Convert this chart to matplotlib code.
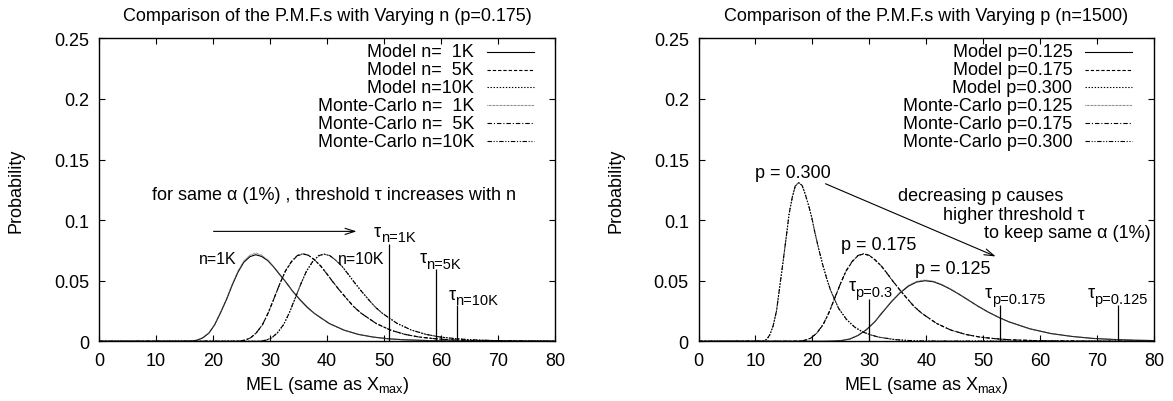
import matplotlib.pyplot as plt
from matplotlib.lines import Line2D

plt.rcParams['font.family'] = ['Liberation Sans', 'DejaVu Sans']
plt.rcParams['mathtext.fontset'] = 'custom'
plt.rcParams['mathtext.rm'] = 'Liberation Sans'
plt.rcParams['mathtext.it'] = 'Liberation Sans:italic'
plt.rcParams['lines.scale_dashes'] = False

# ---- data ----
x_ticks = [0, 10, 20, 30, 40, 50, 60, 70, 80]
y_ticks = [0, 0.05, 0.1, 0.15, 0.2, 0.25]
y_tick_labels = ['0', '0.05', '0.1', '0.15', '0.2', '0.25']

# left panel: varying n (p=0.175)
n1k_x = [0, 15.1, 16.2, 17.2, 18.2, 19.3, 20.3, 21.3, 22.4, 23.4, 24.4, 25.4, 26.5, 27.5, 28.5, 29.6,
         30.6, 31.6, 32.7, 33.9, 35.2, 36.5, 37.8, 40.4, 43.0, 45.5, 48.1, 50.7, 53.3, 58.4, 63.6, 68.7, 80]
n1k_model = [0, 0.00004, 0.0002, 0.0009, 0.0028, 0.0068, 0.0137, 0.0233, 0.0348, 0.0467, 0.0572, 0.0652,
             0.0699, 0.0714, 0.0701, 0.0666, 0.0616, 0.0557, 0.0494, 0.0418, 0.0347, 0.0283, 0.0230, 0.0147,
             0.0092, 0.0057, 0.0035, 0.0021, 0.0013, 0.0005, 0.0002, 0.0001, 0]
n1k_mc = [0, 0.00005, 0.0002, 0.0010, 0.0030, 0.0071, 0.0140, 0.0236, 0.0352, 0.0472, 0.0580, 0.0662,
          0.0712, 0.0728, 0.0712, 0.0673, 0.0620, 0.0558, 0.0493, 0.0416, 0.0345, 0.0281, 0.0228, 0.0146,
          0.0092, 0.0057, 0.0035, 0.0021, 0.0013, 0.0005, 0.0002, 0.0001, 0]

n5k_x = [0, 23.6, 24.6, 25.6, 26.6, 27.6, 28.7, 29.7, 30.7, 31.7, 32.7, 33.8, 34.8, 35.8, 36.8, 37.8,
         38.9, 39.9, 40.9, 42.2, 43.5, 44.7, 46.0, 48.6, 51.1, 53.7, 56.2, 58.8, 61.3, 66.4, 71.5, 76.6, 80]
n5k_model = [0, 0.00004, 0.0002, 0.0009, 0.0028, 0.0069, 0.0138, 0.0235, 0.0352, 0.0471, 0.0578, 0.0658,
             0.0706, 0.0721, 0.0708, 0.0672, 0.0622, 0.0562, 0.0499, 0.0422, 0.0350, 0.0286, 0.0232, 0.0148,
             0.0093, 0.0057, 0.0035, 0.0022, 0.0013, 0.0005, 0.0002, 0.0001, 0]
n5k_mc = [0, 0.00004, 0.0002, 0.0010, 0.0029, 0.0070, 0.0139, 0.0236, 0.0353, 0.0473, 0.0580, 0.0660,
          0.0708, 0.0722, 0.0709, 0.0672, 0.0621, 0.0561, 0.0498, 0.0421, 0.0349, 0.0285, 0.0231, 0.0148,
          0.0093, 0.0057, 0.0035, 0.0022, 0.0013, 0.0005, 0.0002, 0.0001, 0]

n10k_x = [0, 27.3, 28.3, 29.3, 30.3, 31.3, 32.4, 33.4, 34.4, 35.4, 36.4, 37.5, 38.5, 39.5, 40.5, 41.5,
          42.6, 43.6, 44.6, 45.9, 47.2, 48.4, 49.7, 52.3, 54.8, 57.4, 59.9, 62.5, 65.0, 70.1, 75.2, 80]
n10k_model = [0, 0.00004, 0.0002, 0.0009, 0.0028, 0.0069, 0.0138, 0.0235, 0.0352, 0.0471, 0.0578, 0.0658,
              0.0704, 0.0719, 0.0706, 0.0671, 0.0621, 0.0562, 0.0499, 0.0422, 0.0350, 0.0286, 0.0232, 0.0148,
              0.0093, 0.0057, 0.0035, 0.0022, 0.0013, 0.0005, 0.0002, 0.0001]
n10k_mc = [0, 0.00004, 0.0002, 0.0009, 0.0029, 0.0070, 0.0139, 0.0236, 0.0353, 0.0472, 0.0579, 0.0659,
           0.0706, 0.0720, 0.0707, 0.0671, 0.0621, 0.0561, 0.0498, 0.0421, 0.0349, 0.0285, 0.0231, 0.0148,
           0.0093, 0.0057, 0.0035, 0.0022, 0.0013, 0.0005, 0.0002, 0.0001]

tau_n_x = [50.8, 59.2, 62.8]
tau_n_top = [0.080, 0.060, 0.030]

# right panel: varying p (n=1500)
p300_x = [0, 10.9, 11.4, 12.0, 12.5, 13.1, 13.7, 14.2, 14.8, 15.4, 15.9, 16.5, 17.0, 17.6, 18.2, 18.7,
          19.3, 19.9, 20.4, 21.1, 21.8, 22.5, 23.2, 24.6, 26.0, 27.4, 28.8, 30.3, 31.7, 34.5, 37.3, 40.1, 80]
p300_model = [0, 0.00006, 0.0004, 0.0016, 0.0051, 0.0125, 0.0250, 0.0427, 0.0638, 0.0856, 0.1048, 0.1194,
              0.1281, 0.1309, 0.1285, 0.1220, 0.1128, 0.1020, 0.0906, 0.0765, 0.0635, 0.0520, 0.0421, 0.0272,
              0.0180, 0.0118, 0.0078, 0.0052, 0.0034, 0.0014, 0.0005, 0.0002, 0]
p300_mc = [0, 0.00006, 0.0004, 0.0017, 0.0052, 0.0127, 0.0252, 0.0429, 0.0640, 0.0858, 0.1050, 0.1196,
           0.1283, 0.1310, 0.1286, 0.1220, 0.1127, 0.1019, 0.0905, 0.0764, 0.0634, 0.0519, 0.0420, 0.0272,
           0.0180, 0.0118, 0.0078, 0.0052, 0.0034, 0.0014, 0.0005, 0.0002, 0]

p175_x = [0, 16.8, 17.8, 18.8, 19.8, 20.8, 21.9, 22.9, 23.9, 24.9, 25.9, 27.0, 28.0, 29.0, 30.0, 31.0,
          32.1, 33.1, 34.1, 35.4, 36.7, 37.9, 39.2, 41.8, 44.3, 46.9, 49.4, 52.0, 54.5, 59.6, 64.7, 69.8, 80]
p175_model = [0, 0.00004, 0.0002, 0.0009, 0.0028, 0.0069, 0.0138, 0.0235, 0.0352, 0.0471, 0.0578, 0.0658,
              0.0706, 0.0721, 0.0708, 0.0672, 0.0622, 0.0562, 0.0499, 0.0422, 0.0350, 0.0286, 0.0232, 0.0148,
              0.0093, 0.0057, 0.0035, 0.0022, 0.0013, 0.0005, 0.0002, 0.0001, 0]
p175_mc = [0, 0.00004, 0.0002, 0.0010, 0.0029, 0.0070, 0.0140, 0.0237, 0.0354, 0.0473, 0.0580, 0.0660,
           0.0708, 0.0723, 0.0709, 0.0672, 0.0621, 0.0561, 0.0498, 0.0421, 0.0349, 0.0285, 0.0231, 0.0148,
           0.0093, 0.0057, 0.0035, 0.0022, 0.0013, 0.0005, 0.0002, 0.0001, 0]

p125_x = [0, 22.1, 23.6, 25.1, 26.6, 28.0, 29.5, 31.0, 32.4, 33.9, 35.4, 36.9, 38.3, 39.8, 41.3, 42.7,
          44.2, 45.7, 47.2, 49.0, 50.8, 52.7, 54.5, 58.2, 61.9, 65.6, 69.2, 72.9, 76.6, 80]
p125_model = [0, 0.00002, 0.0002, 0.0006, 0.0019, 0.0048, 0.0096, 0.0163, 0.0244, 0.0327, 0.0400, 0.0456,
              0.0489, 0.0500, 0.0491, 0.0466, 0.0431, 0.0390, 0.0346, 0.0292, 0.0243, 0.0198, 0.0161, 0.0103,
              0.0064, 0.0040, 0.0024, 0.0015, 0.0009, 0.0006]
p125_mc = [0, 0.00002, 0.0002, 0.0007, 0.0020, 0.0049, 0.0097, 0.0165, 0.0247, 0.0331, 0.0405, 0.0461,
           0.0494, 0.0505, 0.0495, 0.0469, 0.0433, 0.0391, 0.0346, 0.0292, 0.0243, 0.0198, 0.0161, 0.0103,
           0.0064, 0.0040, 0.0024, 0.0015, 0.0009, 0.0006]

tau_p_x = [30.0, 52.9, 73.7]
tau_p_top = [0.035, 0.030, 0.030]

left_labels = ['Model n=  1K', 'Model n=  5K', 'Model n=10K',
               'Monte-Carlo n=  1K', 'Monte-Carlo n=  5K', 'Monte-Carlo n=10K']
right_labels = ['Model p=0.125', 'Model p=0.175', 'Model p=0.300',
                'Monte-Carlo p=0.125', 'Monte-Carlo p=0.175', 'Monte-Carlo p=0.300']

# gnuplot-like line types 1..6
line_types = [
    dict(ls='-', color='black'),
    dict(ls=(0, (2.4, 1.4)), color='black'),
    dict(ls=(0, (1.0, 1.2)), color='black'),
    dict(ls=(0, (0.5, 0.5)), color='0.35'),
    dict(ls=(0, (3.2, 1.4, 0.8, 1.4)), color='black'),
    dict(ls=(0, (3.2, 1.2, 0.8, 1.2, 0.8, 1.2)), color='black'),
]
LW = 0.8
FS = 13

fig = plt.figure(figsize=(11.73, 4.02), dpi=100)
ax_n = fig.add_axes([0.0844, 0.1485, 0.3887, 0.7537])
ax_p = fig.add_axes([0.5955, 0.1485, 0.3883, 0.7537])


def setup(ax, title):
    ax.set_xlim(0, 80)
    ax.set_ylim(0, 0.25)
    ax.set_xticks(x_ticks)
    ax.set_yticks(y_ticks)
    ax.set_yticklabels(y_tick_labels)
    ax.tick_params(direction='in', length=4, width=0.8, top=True, right=True, labelsize=FS)
    ax.tick_params(axis='x', pad=8)
    ax.tick_params(axis='y', pad=7)
    for s in ax.spines.values():
        s.set_linewidth(1.0)
    ax.set_title(title, fontsize=13, pad=13)
    ax.set_xlabel('MEL (same as X$_{\\rm max}$)', fontsize=FS, labelpad=3)
    ax.set_ylabel('Probability', fontsize=FS, labelpad=21)


def draw_key(ax, labels, x_text, x0, x1, y_top, dy):
    for i, lab in enumerate(labels):
        y = y_top - i * dy
        ax.text(x_text, y, lab, transform=ax.transAxes, ha='right', va='center', fontsize=FS)
        ax.add_line(Line2D([x0, x1], [y, y], transform=ax.transAxes, lw=LW, **line_types[i]))


def tau_label(ax, x, y, sub):
    t = ax.text(x, y, 'τ', fontsize=FS, ha='left', va='center')
    ax.annotate(sub, xy=(1, 0), xycoords=t, xytext=(0, -1.2), textcoords='offset points',
                ha='left', va='baseline', fontsize=10.5)


# ---- left: varying n ----
setup(ax_n, 'Comparison of the P.M.F.s with Varying n (p=0.175)')
ax_n.plot(n1k_x, n1k_model, lw=LW, **line_types[0])
ax_n.plot(n5k_x, n5k_model, lw=LW, **line_types[1])
ax_n.plot(n10k_x, n10k_model, lw=LW, **line_types[2])
ax_n.plot(n1k_x, n1k_mc, lw=LW, **line_types[3])
ax_n.plot(n5k_x, n5k_mc, lw=LW, **line_types[4])
ax_n.plot(n10k_x, n10k_mc, lw=LW, **line_types[5])
ax_n.vlines(tau_n_x, 0, tau_n_top, colors='black', lw=0.9)
draw_key(ax_n, left_labels, 0.823, 0.852, 0.953, 0.956, 0.059)

ax_n.text(41.3, 0.121, 'for same α (1%) , threshold τ increases with n', fontsize=FS, ha='center', va='center')
ax_n.annotate('', xy=(45.2, 0.0907), xytext=(20.1, 0.0907),
              arrowprops=dict(arrowstyle='->,head_length=0.7,head_width=0.22', lw=0.8, color='black',
                              shrinkA=0, shrinkB=0))
ax_n.text(24.2, 0.0687, 'n=1K', fontsize=11.5, ha='right', va='center')
ax_n.text(42.0, 0.0687, 'n=10K', fontsize=11.5, ha='left', va='center')
tau_label(ax_n, 48.2, 0.091, 'n=1K')
tau_label(ax_n, 56.2, 0.069, 'n=5K')
tau_label(ax_n, 61.3, 0.039, 'n=10K')

# ---- right: varying p ----
setup(ax_p, 'Comparison of the P.M.F.s with Varying p (n=1500)')
ax_p.plot(p125_x, p125_model, lw=LW, **line_types[0])
ax_p.plot(p175_x, p175_model, lw=LW, **line_types[1])
ax_p.plot(p300_x, p300_model, lw=LW, **line_types[2])
ax_p.plot(p125_x, p125_mc, lw=LW, **line_types[3])
ax_p.plot(p175_x, p175_mc, lw=LW, **line_types[4])
ax_p.plot(p300_x, p300_mc, lw=LW, **line_types[5])
ax_p.vlines(tau_p_x, 0, tau_p_top, colors='black', lw=0.9)
draw_key(ax_p, right_labels, 0.821, 0.848, 0.952, 0.956, 0.059)

ax_p.text(10.0, 0.139, 'p = 0.300', fontsize=FS, ha='left', va='center')
ax_p.text(25.1, 0.0795, 'p = 0.175', fontsize=FS, ha='left', va='center')
ax_p.text(38.0, 0.060, 'p = 0.125', fontsize=FS, ha='left', va='center')
ax_p.annotate('', xy=(52.2, 0.070), xytext=(22.3, 0.130),
              arrowprops=dict(arrowstyle='->,head_length=0.7,head_width=0.22', lw=0.8, color='black',
                              shrinkA=0, shrinkB=0))
ax_p.text(35.1, 0.120, 'decreasing p causes', fontsize=FS, ha='left', va='center')
ax_p.text(43.0, 0.105, 'higher threshold τ', fontsize=FS, ha='left', va='center')
ax_p.text(50.2, 0.090, 'to keep same α (1%)', fontsize=FS, ha='left', va='center')
tau_label(ax_p, 26.3, 0.046, 'p=0.3')
tau_label(ax_p, 50.3, 0.040, 'p=0.175')
tau_label(ax_p, 68.3, 0.040, 'p=0.125')

fig.savefig('out.png', dpi=100)
